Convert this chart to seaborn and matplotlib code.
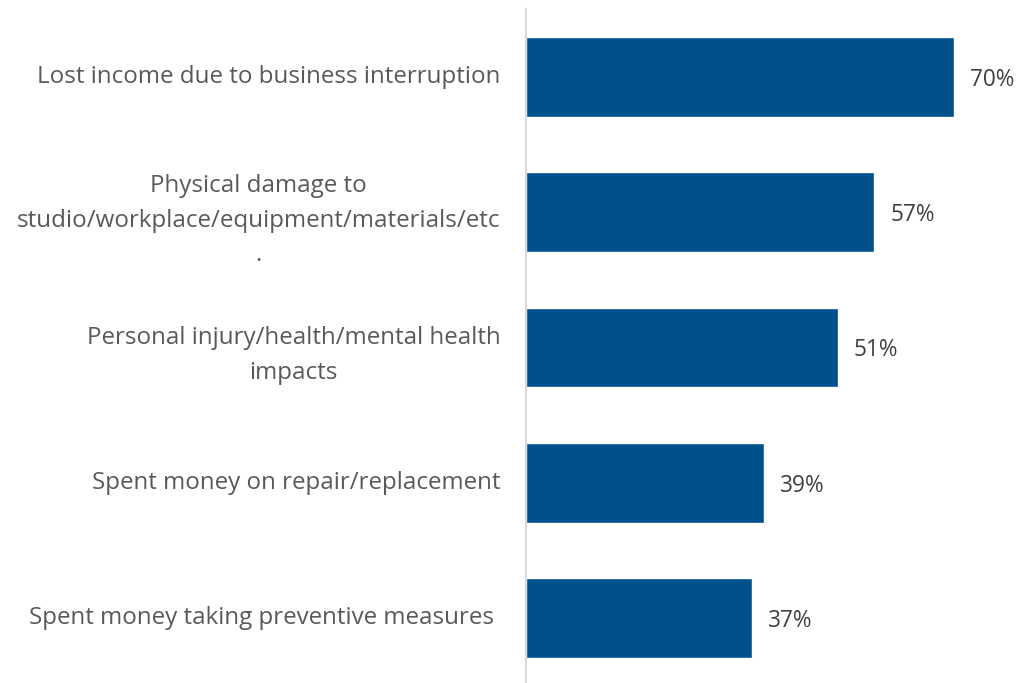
import matplotlib
matplotlib.use("Agg")
import matplotlib.pyplot as plt
import seaborn as sns
import pandas as pd

categories = [
    "Lost income due to business interruption",
    "Physical damage to\nstudio/workplace/equipment/materials/etc\n.",
    "Personal injury/health/mental health\nimpacts",
    "Spent money on repair/replacement",
    "Spent money taking preventive measures ",
]
values = [70, 57, 51, 39, 37]
value_labels = ["70%", "57%", "51%", "39%", "37%"]

sns.set_theme(style="white")
plt.rcParams['font.family'] = ['Open Sans', 'DejaVu Sans']

df = pd.DataFrame({"cat": categories, "val": values})

fig = plt.figure(figsize=(10.2, 6.83), dpi=100)
ax = fig.add_axes([526/1020, -2.6/683, 494/1020, 676.2/683])
sns.barplot(data=df, y="cat", x="val", orient="h", color="#00508C",
            saturation=1, width=0.59, ax=ax)
ax.set_xlim(0, 494/6.114)
ax.set_ylim(4.5, -0.5)
ax.set_xlabel("")
ax.set_ylabel("")
ax.set_xticks([])
for s in ["top", "right", "bottom"]:
    ax.spines[s].set_visible(False)
ax.spines["left"].set_color("#d9d9d9")
ax.spines["left"].set_linewidth(1.5)
ax.tick_params(axis="y", length=0, pad=18.5)
ax.set_yticks(range(len(categories)))
ax.set_yticklabels(categories, fontsize=17.4, color="#595959",
                   multialignment="center", linespacing=1.59)
for t in ax.get_yticklabels():
    t.set_va("center_baseline" if "\n" in t.get_text() else "center")

for i, (v, lab) in enumerate(zip(values, value_labels)):
    ax.text(v + 2.6, i, lab, va="center_baseline", ha="left", fontsize=16.3, color="#404040")

fig.savefig("out.png", dpi=100)
